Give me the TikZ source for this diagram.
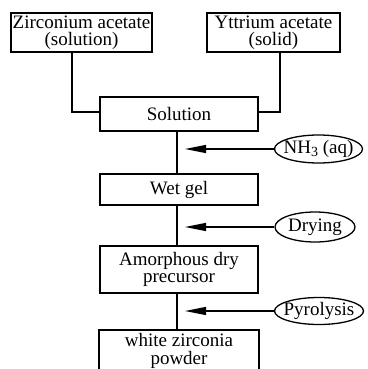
\documentclass[tikz,border=0pt]{standalone}
\usepackage{fontspec}
\setmainfont{Liberation Serif}
\usetikzlibrary{arrows.meta,shapes.geometric}
\begin{document}
\begin{tikzpicture}[x=1pt,y=-1pt,
  every node/.style={font=\fontsize{19}{17.5}\selectfont},
  box/.style={draw, line width=1.3pt, rectangle, inner sep=0pt, align=center},
  oval/.style={draw, line width=1.3pt, ellipse, inner xsep=-13pt, inner ysep=-4pt},
  link/.style={line width=1.3pt},
  feed/.style={line width=1.3pt, -{Triangle[length=21pt,width=8pt]}}]
\useasboundingbox (0,0) rectangle (367,369);
% boxes
\node[box, minimum width=141pt, minimum height=39pt] (zr) at (81.5,32.5) {Zirconium acetate\\(solution)};
\node[box, minimum width=133pt, minimum height=39pt] (yt) at (273.5,32.5) {Yttrium acetate\\(solid)};
\node[box, minimum width=158pt, minimum height=34pt] (sol) at (179,114) {Solution};
\node[box, minimum width=158pt, minimum height=31pt] (wet) at (179,189.5) {Wet gel};
\node[box, minimum width=158pt, minimum height=47pt] (amo) at (179,269.5) {Amorphous dry\\precursor};
\node[box, minimum width=160pt, minimum height=42pt] (wz) at (179,351) {white zirconia\\powder};
% ovals
\node[oval, minimum width=88pt, minimum height=28pt] (nh) at (318.5,149) {NH\raisebox{-0.35ex}{\fontsize{14}{14}\selectfont 3} (aq)};
\node[oval, minimum width=80pt, minimum height=30pt] (dry) at (315,227) {Drying};
\node[oval, minimum width=89pt, minimum height=27pt] (pyr) at (319,311) {Pyrolysis};
% arrow targets
\coordinate (t1) at (185,149);
\coordinate (t2) at (185,227);
\coordinate (t3) at (185,311);
% connectors
\draw[link] (zr.south -| 72,0) |- (sol.west |- 0,112);
\draw[link] (yt.south -| 280,0) |- (sol.east |- 0,112);
\draw[link] (sol.south -| 177,0) -- (wet.north -| 177,0);
\draw[link] (wet.south -| 177,0) -- (amo.north -| 177,0);
\draw[link] (amo.south -| 177,0) -- (wz.north -| 177,0);
\draw[feed] (nh.west) -- (t1);
\draw[feed] (dry.west) -- (t2);
\draw[feed] (pyr.west) -- (t3);
\end{tikzpicture}
\end{document}
